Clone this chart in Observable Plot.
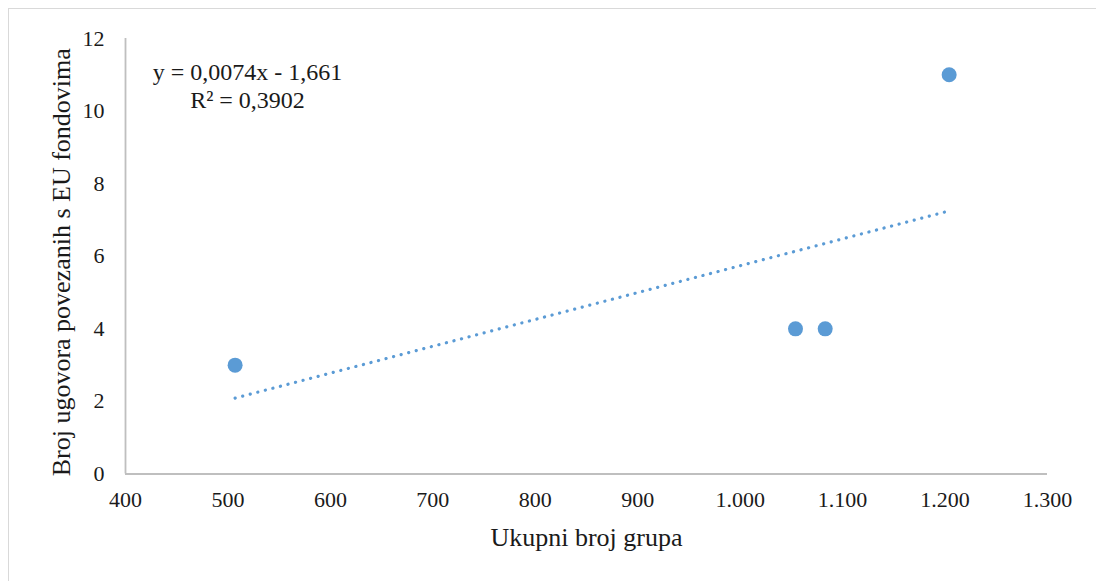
<!DOCTYPE html>
<html>
<head>
<meta charset="utf-8">
<script src="https://cdn.jsdelivr.net/npm/d3@7"></script>
<script src="https://cdn.jsdelivr.net/npm/@observablehq/plot@0.6"></script>
<style>
  html, body { margin: 0; padding: 0; background: #fff; }
  #frame { position: absolute; left: 8px; top: 8px; width: 1100px; height: 600px; border: 1px solid #d9d9d9; box-sizing: border-box; }
  #chart { position: absolute; left: 0; top: 0; }
</style>
</head>
<body>
<div id="frame"></div>
<div id="chart"></div>
<script>
// Data
const groupsTotal = [507, 1054, 1083, 1204];     // Ukupni broj grupa
const euContracts = [3, 4, 4, 11];               // Broj ugovora povezanih s EU fondovima
const xTicks = [400, 500, 600, 700, 800, 900, 1000, 1100, 1200, 1300];
const yTicks = [0, 2, 4, 6, 8, 10, 12];
const trendSlope = 0.0074;
const trendIntercept = -1.661;
const equationLines = ["y = 0,0074x - 1,661", "R² = 0,3902"];
const xTitle = "Ukupni broj grupa";
const yTitle = "Broj ugovora povezanih s EU fondovima";

const points = groupsTotal.map((x, i) => ({x, y: euContracts[i]}));
const xMin = d3.min(groupsTotal), xMax = d3.max(groupsTotal);
const trend = [xMin, xMax].map(x => ({x, y: trendSlope * x + trendIntercept}));

const hr = d3.formatLocale({decimal: ",", thousands: ".", grouping: [3], currency: ["", " kn"]});
const fmt = hr.format(",");
const ink = "#1a1a1a";

const chart = Plot.plot({
  width: 1096,
  height: 581,
  marginLeft: 125,
  marginRight: 49,
  marginTop: 38,
  marginBottom: 107.5,
  style: {fontFamily: "'Liberation Serif', 'Times New Roman', serif", fontSize: "22px", color: ink, background: "transparent"},
  x: {domain: [400, 1300], ticks: xTicks},
  y: {domain: [0, 12], ticks: yTicks},
  marks: [
    Plot.ruleY([0], {stroke: "#bfbfbf", strokeWidth: 1.8}),
    Plot.ruleX([400], {stroke: "#bfbfbf", strokeWidth: 1.8}),
    Plot.axisX({ticks: xTicks, tickFormat: fmt, tickSize: 0, tickPadding: 17, fontSize: 22, label: null}),
    Plot.axisY({ticks: yTicks, tickSize: 0, tickPadding: 21, fontSize: 22, label: null}),
    Plot.text([xTitle], {text: d => d, frameAnchor: "bottom", lineAnchor: "top", dy: 53.5,
      fontSize: 26, fill: ink}),
    Plot.text([yTitle], {text: d => d, frameAnchor: "left", lineAnchor: "top", textAnchor: "middle",
      rotate: -90, dx: -74, dy: 6, fontSize: 26, fill: ink}),
    Plot.line(trend, {x: "x", y: "y", stroke: "#5B9BD5", strokeWidth: 3.2,
      strokeDasharray: "0.1 7.7", strokeLinecap: "round"}),
    Plot.dot(points, {x: "x", y: "y", r: 7.5, fill: "#5B9BD5", stroke: "none"}),
    Plot.text([equationLines.join("\n")], {text: d => d, frameAnchor: "top-left", lineAnchor: "top",
      dx: 122, dy: 22, fontSize: 24, fill: ink, lineHeight: 1.167, textAnchor: "middle"})
  ]
});
document.getElementById("chart").appendChild(chart);
</script>
</body>
</html>
